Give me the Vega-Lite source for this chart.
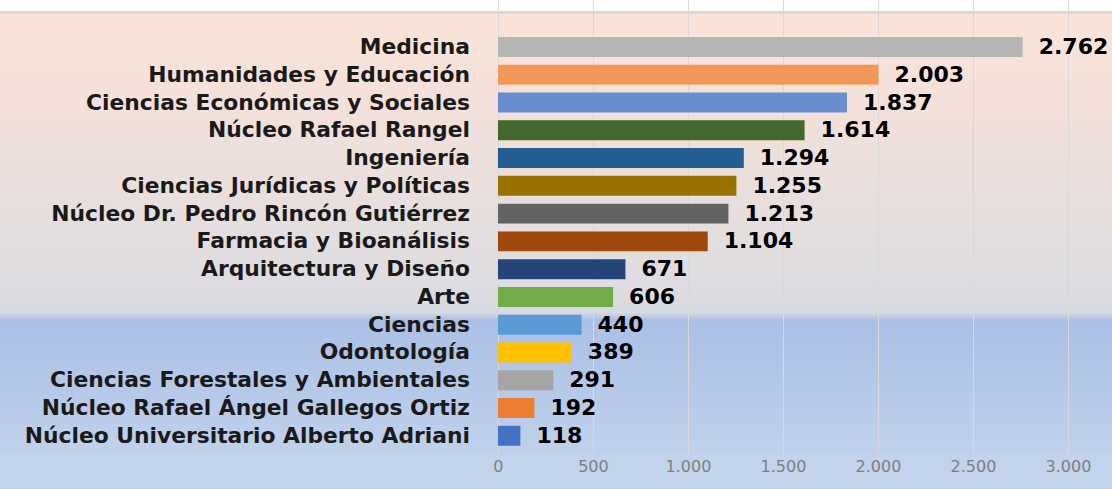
{
  "$schema": "https://vega.github.io/schema/vega-lite/v6.json",
  "width": 1112,
  "height": 489,
  "autosize": {"type": "fit", "contains": "padding"},
  "padding": {"left": 0, "top": 0, "right": 0, "bottom": 15},
  "background": "#c3d3ec",
  "config": {
    "locale": {"number": {"decimal": ",", "thousands": ".", "grouping": [3], "currency": ["", ""]}}
  },
  "view": {
    "stroke": null,
    "fill": {
      "gradient": "linear", "x1": 0, "y1": 0, "x2": 0, "y2": 1,
      "stops": [
        {"offset": 0, "color": "#ffffff"},
        {"offset": 0.025, "color": "#ffffff"},
        {"offset": 0.0252, "color": "#d9d9d9"},
        {"offset": 0.031, "color": "#d9d9d9"},
        {"offset": 0.0312, "color": "#fae4d8"},
        {"offset": 0.22, "color": "#f4e1da"},
        {"offset": 0.44, "color": "#e8dfdd"},
        {"offset": 0.66, "color": "#dcdce1"},
        {"offset": 0.69, "color": "#d6dae3"},
        {"offset": 0.705, "color": "#abc0e6"},
        {"offset": 1, "color": "#c0d1eb"}
      ]
    }
  },
  "data": {
    "values": [
      {"facultad": "Medicina", "valor": 2762},
      {"facultad": "Humanidades y Educación", "valor": 2003},
      {"facultad": "Ciencias Económicas y Sociales", "valor": 1837},
      {"facultad": "Núcleo Rafael Rangel", "valor": 1614},
      {"facultad": "Ingeniería", "valor": 1294},
      {"facultad": "Ciencias Jurídicas y Políticas", "valor": 1255},
      {"facultad": "Núcleo Dr. Pedro Rincón Gutiérrez", "valor": 1213},
      {"facultad": "Farmacia y Bioanálisis", "valor": 1104},
      {"facultad": "Arquitectura y Diseño", "valor": 671},
      {"facultad": "Arte", "valor": 606},
      {"facultad": "Ciencias", "valor": 440},
      {"facultad": "Odontología", "valor": 389},
      {"facultad": "Ciencias Forestales y Ambientales", "valor": 291},
      {"facultad": "Núcleo Rafael Ángel Gallegos Ortiz", "valor": 192},
      {"facultad": "Núcleo Universitario Alberto Adriani", "valor": 118}
    ]
  },
  "encoding": {
    "y": {
      "field": "facultad", "type": "nominal", "sort": null,
      "scale": {"paddingInner": 0.28, "paddingOuter": 0.8, "align": 0.835},
      "axis": null
    }
  },
  "layer": [
    {
      "mark": {"type": "bar"},
      "encoding": {
        "x": {
          "field": "valor", "type": "quantitative",
          "scale": {"domain": [-2621, 3232], "nice": false, "zero": false},
          "axis": {
            "title": null, "values": [0, 500, 1000, 1500, 2000, 2500, 3000], "format": ",.0f",
            "domain": false, "ticks": false, "grid": true, "gridColor": "#d9d9d9", "gridWidth": 1,
            "labelPadding": 5, "labelColor": "#7f7f7f", "labelFont": "DejaVu Sans", "labelFontSize": 16
          }
        },
        "x2": {"datum": 0},
        "color": {
          "field": "facultad", "type": "nominal", "legend": null,
          "scale": {
            "domain": ["Medicina", "Humanidades y Educación", "Ciencias Económicas y Sociales", "Núcleo Rafael Rangel", "Ingeniería", "Ciencias Jurídicas y Políticas", "Núcleo Dr. Pedro Rincón Gutiérrez", "Farmacia y Bioanálisis", "Arquitectura y Diseño", "Arte", "Ciencias", "Odontología", "Ciencias Forestales y Ambientales", "Núcleo Rafael Ángel Gallegos Ortiz", "Núcleo Universitario Alberto Adriani"],
            "range": ["#b5b5b5", "#f1975a", "#698ed0", "#43682b", "#255e91", "#997300", "#636363", "#9e480e", "#264478", "#70ad47", "#5b9bd5", "#ffc000", "#a5a5a5", "#ed7d31", "#4472c4"]
          }
        }
      }
    },
    {
      "mark": {"type": "text", "align": "left", "baseline": "middle", "dx": 16, "font": "DejaVu Sans", "fontWeight": "bold", "fontSize": 22, "color": "#000000"},
      "encoding": {
        "x": {"field": "valor", "type": "quantitative"},
        "text": {"field": "valor", "type": "quantitative", "format": ",.0f"}
      }
    },
    {
      "mark": {"type": "text", "align": "right", "baseline": "middle", "dx": -28, "font": "DejaVu Sans", "fontWeight": "bold", "fontSize": 21.8, "color": "#1a1a1a"},
      "encoding": {
        "x": {"datum": 0},
        "text": {"field": "facultad", "type": "nominal"}
      }
    }
  ]
}
